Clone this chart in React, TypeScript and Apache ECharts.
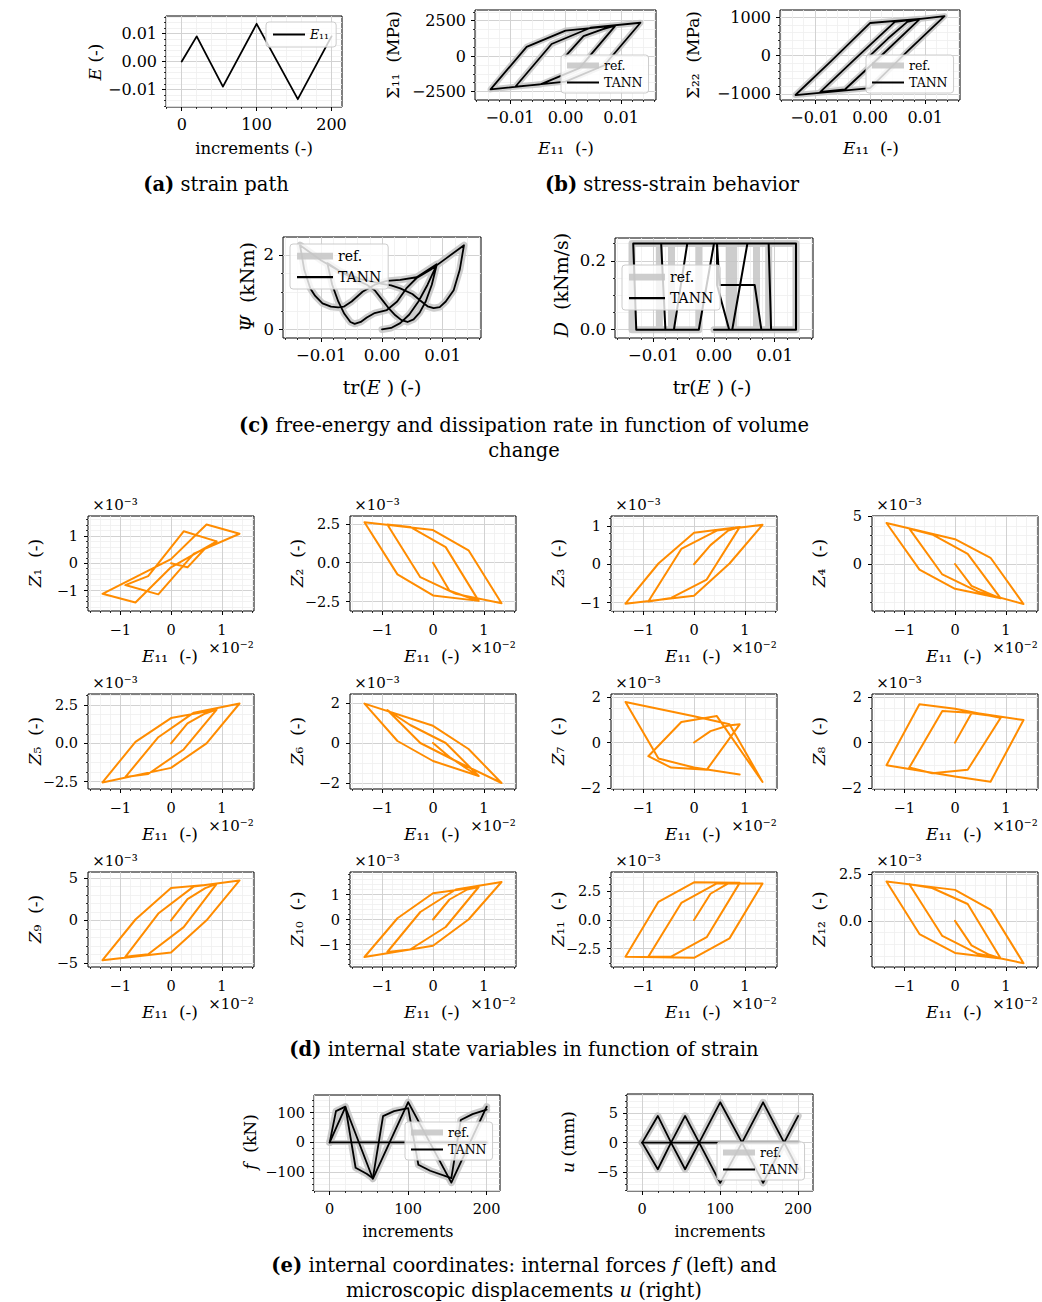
import React, { useEffect, useRef } from "react";
import * as echarts from "echarts";

const SERIF = "'DejaVu Serif', serif";
const ORANGE = "#ff8c00";
const REFC = "#c4c4c4";

// ---------- (a) strain path ----------
const incKnots = [0, 20, 55, 100, 155, 200];
const e11Knots = [0, 0.009, -0.009, 0.0135, -0.0135, 0.009];

// ---------- E11 at the corners of the loops ----------
const e11Loop = [0, 0.00325, 0.00675, 0.009, 0.0025, -0.0045, -0.009, -0.0025, 0.0045, 0.0135, 0.007, 0, -0.0135, -0.007, 0, 0.009];
const sigma11 = [0, 1400, 1900, 2150, -850, -2000, -2150, 850, 2000, 2350, -650, -1800, -2350, 650, 1800, 2150];
const sigma22 = [0, 445, 880, 950, 60, -880, -950, -60, 880, 1030, 140, -850, -1030, -140, 850, 960];

// internal state variables (x 1e-3)
const z1 = [0, -0.15, 0.55, 0.8, 1.17, -0.47, -0.8, -1.14, 0.35, 1.08, 1.42, 0.15, -1.12, -1.44, -0.15, 0.8];
const z2 = [0, -1.8, -2.2, -2.45, 1.0, 2.3, 2.45, -0.93, -2.0, -2.6, 0.8, 2.1, 2.6, -0.75, -2.1, -2.45];
const z3 = [0, 0.5, 0.88, 0.97, -0.4, -0.88, -0.97, 0.4, 0.88, 1.03, 0.02, -0.82, -1.03, 0.02, 0.82, 0.97];
const z4 = [0, -2.3, -3.1, -3.6, 1.05, 3.1, 3.7, -1.1, -2.9, -4.2, 0.65, 2.6, 4.3, -0.6, -2.6, -3.6];
const z5 = [0, 1.3, 1.95, 2.2, -0.4, -2.0, -2.2, 0.4, 2.0, 2.6, 0.0, -1.6, -2.55, 0.1, 1.65, 2.2];
const z6 = [0, -0.7, -1.3, -1.65, 0.0, 0.9, 1.65, 0.0, -0.9, -2.0, -0.3, 0.86, 1.97, 0.1, -0.9, -1.65];
const z7 = [0, 0.5, 0.75, 0.8, -1.2, -1.1, -0.6, 0.9, 1.16, -1.73, 0.8, 1.15, 1.78, -0.7, -1.1, -1.4];
const z8 = [0, 1.3, 1.2, 1.1, -1.2, -1.35, -1.1, 1.4, 1.3, 1.0, -1.73, -1.5, -1.0, 1.7, 1.5, 1.1];
const z9 = [0, 2.5, 3.8, 4.3, -0.8, -4.0, -4.3, 0.8, 4.0, 4.7, 0.0, -3.8, -4.7, 0.1, 3.8, 4.3];
const z10 = [0, 0.8, 1.2, 1.3, -0.3, -1.2, -1.3, 0.3, 1.2, 1.5, 0.0, -1.05, -1.5, 0.05, 1.05, 1.3];
const z11 = [0, 2.3, 3.2, 3.25, -1.5, -3.2, -3.2, 1.5, 3.2, 3.2, -1.6, -3.3, -3.2, 1.6, 3.3, 3.25];
const z12 = [0, -1.3, -1.8, -2.0, 0.9, 1.75, 1.95, -0.8, -1.75, -2.25, 0.6, 1.65, 2.1, -0.7, -1.7, -2.0];
const zSets = [z1, z2, z3, z4, z5, z6, z7, z8, z9, z10, z11, z12];

// ---------- (c) free energy ----------
const psiTrE = [
  0, 0.0015, 0.003, 0.0045, 0.006, 0.0075, 0.009,
  0.0082, 0.0072, 0.0062, 0.0052, 0.0042, 0.0032, 0.0022, 0.0012, 0, -0.0012, -0.0025, -0.0045, -0.0068, -0.009,
  -0.0082, -0.0072, -0.0062, -0.0052, -0.0045, -0.0035, -0.0025, -0.0012, 0.0008, 0.0025, 0.004, 0.0057, 0.008, 0.0105, 0.0135,
  0.0128, 0.0118, 0.0105, 0.0095, 0.0085, 0.0075, 0.0065, 0.005, 0.003, 0.0015, 0, -0.0035, -0.0068, -0.01, -0.0135,
  -0.0128, -0.0118, -0.011, -0.0098, -0.0084, -0.0072, -0.0063, -0.005, -0.0032, -0.0012, 0.0008, 0.003, 0.0057, 0.009];
const psiVal = [
  0, 0.04, 0.17, 0.4, 0.75, 1.2, 1.73,
  1.2, 0.75, 0.45, 0.27, 0.2, 0.25, 0.38, 0.55, 0.8, 1.05, 1.2, 1.35, 1.55, 1.78,
  1.2, 0.75, 0.42, 0.2, 0.15, 0.2, 0.32, 0.44, 0.52, 0.75, 1.1, 1.38, 1.6, 1.9, 2.26,
  1.6, 1.05, 0.75, 0.6, 0.57, 0.62, 0.75, 0.95, 1.1, 1.18, 1.22, 1.35, 1.55, 1.85, 2.26,
  1.6, 1.1, 0.9, 0.7, 0.61, 0.59, 0.61, 0.75, 1.01, 1.2, 1.3, 1.33, 1.4, 1.75];

// ---------- (c) dissipation rate ----------
const dRefTrE = [0, 0.00325, 0.00325, 0.009, 0.009, 0.0025, 0.0025, -0.009, -0.009, -0.0025, -0.0025, 0.0135, 0.0135, 0.007, 0.007, -0.0135, -0.0135, -0.007, -0.007, 0.009];
const dRefVal = [0, 0, 0.25, 0.25, 0, 0, 0.25, 0.25, 0, 0, 0.25, 0.25, 0, 0, 0.25, 0.25, 0, 0, 0.25, 0.25];
const dTanTrE = [0, 0.003, 0.0055, 0.009, 0.0094, 0.0025, 0.0005, 0.0005, -0.0087, -0.008, -0.0025, 0, 0.0135, 0.0135, 0.0078, 0.0067, 0.0009, 0.0005, -0.0133, -0.0128, -0.0066, -0.0044, 0.009];
const dTanVal = [0, 0, 0.25, 0.25, 0, 0, 0.13, 0.25, 0.25, 0, 0, 0.25, 0.25, 0, 0, 0.13, 0.13, 0.25, 0.25, 0, 0, 0.25, 0.25];

// ---------- (e) internal coordinates ----------
const fIncA = [0, 8, 20, 33, 47, 55, 68, 82, 100, 113, 128, 155, 167, 182, 200];
const fA = [0, 105, 120, -85, -105, -120, 88, 105, 115, -75, -95, -120, 75, 95, 110];
const fIncB = [0, 20, 55, 100, 155, 200];
const fB = [0, 118, -122, 135, -135, 120];
const uInc = [0, 20, 37, 55, 73, 100, 128, 155, 182, 200];
const uPos = [0, 4.5, 0, 4.5, 0, 6.8, 0, 6.8, 0, 4.5];
const uNeg = [0, -4.5, 0, -4.5, 0, -6.8, 0, -6.8, 0, -4.5];
const zeroInc = [0, 200];
const zeroVal = [0, 0];

// ---------- tick labels ----------
const incTicks = [0, 100, 200];
const strainTicks = [-0.01, 0, 0.01];
const s11Ticks = [-2500, 0, 2500];
const s22Ticks = [-1000, 0, 1000];
const psiTicks = [0, 2];
const dTicks = [0, 0.2];
const zxTicks = [-1, 0, 1];
const fTicks = [-100, 0, 100];
const uTicks = [-5, 0, 5];
const zyTicks = [
  [-1, 0, 1], [-2.5, 0, 2.5], [-1, 0, 1], [-5, 0, 5],
  [-2.5, 0, 2.5], [-2, 0, 2], [-2, 0, 2], [-2, 0, 2],
  [-5, 0, 5], [-1, 0, 1], [-2.5, 0, 2.5], [0, 2.5],
];
const zyRange: [number, number, number, number][] = [
  [-1.75, 1.73, 0.2, 0], [-3.1, 3.0, 0.625, 1], [-1.22, 1.26, 0.2, 0], [-4.93, 5.03, 1, 0],
  [-2.98, 3.22, 0.625, 1], [-2.3, 2.45, 0.5, 0], [-2.04, 2.13, 0.5, 0], [-2.05, 2.15, 0.5, 0],
  [-5.5, 5.7, 1, 0], [-1.9, 1.9, 0.2, 0], [-4.1, 4.2, 0.625, 1], [-2.45, 2.6, 0.625, 1],
];

const zip = (a: number[], b: number[], sx = 1) => a.map((v, i) => [v * sx, b[i]]);
const fmt = (d: number) => (v: number) => (v < -1e-12 ? "\u2212" : "") + Math.abs(v).toFixed(d);

function axisPair(dim: "x" | "y", gi: number, min: number, max: number, majors: number[], step: number, f: (v: number) => string, fs: number, margin: number) {
  const minors: number[] = [];
  for (let k = Math.ceil(min / step - 1e-9); k * step <= max + 1e-12; k++) {
    const v = +(k * step).toFixed(10);
    if (!majors.some((m) => Math.abs(m - v) < step * 1e-3)) minors.push(v);
  }
  const position = dim === "x" ? "bottom" : "left";
  const main = {
    type: "value", gridIndex: gi, min, max, position, offset: 0,
    axisLine: { show: false, onZero: false },
    axisTick: { show: true, customValues: majors, length: 4, lineStyle: { color: "#000", width: 1 } },
    axisLabel: { show: true, customValues: majors, formatter: f, color: "#000", fontFamily: SERIF, fontSize: fs, margin, hideOverlap: false },
    splitLine: { show: true, customValues: majors, lineStyle: { color: "#d2d2d2", width: 1 } },
  };
  const minor = {
    type: "value", gridIndex: gi, min, max, position, offset: 0,
    axisLine: { show: false, onZero: false },
    axisTick: { show: true, customValues: minors, length: 2, lineStyle: { color: "#000", width: 0.8 } },
    axisLabel: { show: false },
    splitLine: { show: true, customValues: minors, lineStyle: { color: "#efefef", width: 0.8 } },
  };
  return [main, minor];
}

function line(name: string, data: number[][], color: string, width: number, opacity = 1, z = 3) {
  return {
    type: "line", name, data, showSymbol: false, symbol: "none", silent: true, clip: true,
    lineStyle: { color, width, opacity, cap: "round", join: "round" }, itemStyle: { color, opacity }, z,
  };
}
const refLine = (d: number[][], w = 6) => line("ref.", d, REFC, w, 0.85, 2);
const tannLine = (d: number[][], w = 1.8) => line("TANN", d, "#000", w, 1, 3);

const ICON_THICK = "path://M0,0H32V6H0Z";
const ICON_THIN = "path://M0,0H32V2H0Z";

function buildOption() {
  const grids: any[] = [], xAxes: any[] = [], yAxes: any[] = [], series: any[] = [], legends: any[] = [], graphic: any[] = [];
  type Ax = { min: number; max: number; majors: number[]; step: number; f: (v: number) => string; fs: number; m?: number };
  const addPlot = (box: number[], x: Ax, y: Ax, ser: any[]) => {
    const gi = grids.length;
    grids.push({ left: box[0], top: box[1], width: box[2], height: box[3], show: true, borderColor: "#000", borderWidth: 1, backgroundColor: "#fff", containLabel: false });
    const xi = xAxes.length, yi = yAxes.length;
    xAxes.push(...axisPair("x", gi, x.min, x.max, x.majors, x.step, x.f, x.fs, x.m ?? 9));
    yAxes.push(...axisPair("y", gi, y.min, y.max, y.majors, y.step, y.f, y.fs, y.m ?? 9));
    ser.forEach((s) => series.push({ ...s, xAxisIndex: xi, yAxisIndex: yi }));
  };
  const legend = (left: number, top: number, data: any[], fs = 12.5, extra: any = {}) =>
    legends.push({
      left, top, orient: "vertical", data, selectedMode: false, itemWidth: 32, itemHeight: 9, itemGap: 4,
      padding: [4, 6, 4, 6], backgroundColor: "rgba(255,255,255,0.8)", borderColor: "#cccccc", borderWidth: 1, borderRadius: 3,
      textStyle: { fontFamily: SERIF, fontSize: fs, color: "#000", rich: { i: { fontStyle: "italic", fontFamily: SERIF, fontSize: fs } } }, ...extra,
    });
  const RT = [{ name: "ref.", icon: ICON_THICK }, { name: "TANN", icon: ICON_THIN }];
  const BIG = { itemWidth: 36, itemHeight: 10, itemGap: 7, padding: [5, 7, 5, 7] };
  const rich = (fs: number) => ({
    i: { fontStyle: "italic", fontFamily: SERIF, fontSize: fs, fill: "#000" },
    b: { fontWeight: "bold", fontFamily: SERIF, fontSize: fs, fill: "#000" },
  });
  const text = (x: number, y: number, t: string, fs: number, rot = 0, align = "center") =>
    graphic.push({
      type: "text", x, y, rotation: rot, z: 100, silent: true,
      style: { text: t, fontFamily: SERIF, fontSize: fs, fill: "#000", align, verticalAlign: "middle", textAlign: align, textVerticalAlign: "middle", rich: rich(fs) },
    });
  const R = Math.PI / 2;

  const E = { min: -0.0163, max: 0.0163, majors: strainTicks, step: 0.002, f: fmt(2), fs: 16 };
  const EC = { ...E, fs: 16.5 };

  // (a)
  addPlot([166, 16, 176, 91], { min: -21, max: 214, majors: incTicks, step: 20, f: fmt(0), fs: 16 }, { ...E },
    [line("E11", zip(incKnots, e11Knots), "#000", 1.8)]);
  legend(266, 22, [{ name: "E11", icon: ICON_THIN }], 12.5, { padding: [6, 7, 6, 7], formatter: () => "{i|E}\u2081\u2081" });
  text(95, 62, "{i|E} (-)", 17, R);
  text(254, 148, "increments (-)", 16.5);

  // (b) sigma11
  addPlot([475, 10, 181, 90], E, { min: -3100, max: 3250, majors: s11Ticks, step: 625, f: fmt(0), fs: 16 },
    [refLine(zip(e11Loop, sigma11)), tannLine(zip(e11Loop, sigma11))]);
  legend(561, 55, RT);
  text(393, 55, "\u03a3\u2081\u2081  (MPa)", 17, R);
  text(566, 148, "{i|E}\u2081\u2081  (-)", 17);

  // (b) sigma22
  addPlot([780, 10, 180, 90], E, { min: -1160, max: 1190, majors: s22Ticks, step: 200, f: fmt(0), fs: 16 },
    [refLine(zip(e11Loop, sigma22)), tannLine(zip(e11Loop, sigma22))]);
  legend(866, 55, RT);
  text(693, 55, "\u03a3\u2082\u2082  (MPa)", 17, R);
  text(871, 148, "{i|E}\u2081\u2081  (-)", 17);
  text(216, 184, "{b|(a)} strain path", 19.5);
  text(672, 184, "{b|(b)} stress-strain behavior", 19.5);

  // (c) psi
  addPlot([283, 237, 198, 101], EC, { min: -0.23, max: 2.48, majors: psiTicks, step: 0.5, f: fmt(0), fs: 16.5 },
    [refLine(zip(psiTrE, psiVal), 7), tannLine(zip(psiTrE, psiVal))]);
  legend(290, 244, RT, 14, BIG);
  text(247, 287, "{i|\u03a8}  (kNm)", 19, R);
  text(382, 387, "tr({i|E} ) (-)", 19);

  // (c) D
  addPlot([615, 238, 198, 100], EC, { min: -0.024, max: 0.266, majors: dTicks, step: 0.05, f: fmt(1), fs: 16.5 },
    [refLine(zip(dRefTrE, dRefVal), 7), tannLine(zip(dTanTrE, dTanVal), 2)]);
  legend(622, 265, RT, 14, BIG);
  text(561, 285, "{i|D}  (kNm/s)", 19, R);
  text(712, 387, "tr({i|E} ) (-)", 19);
  text(524, 425, "{b|(c)} free-energy and dissipation rate in function of volume", 19.5);
  text(524, 450, "change", 19.5);

  // (d) Z plots
  const colL = [88, 350, 611, 872];
  const rowT = [516, 694, 872];
  const subs = ["\u2081", "\u2082", "\u2083", "\u2084", "\u2085", "\u2086", "\u2087", "\u2088", "\u2089", "\u2081\u2080", "\u2081\u2081", "\u2081\u2082"];
  zSets.forEach((zs, k) => {
    const c = k % 4, r = Math.floor(k / 4);
    const L = colL[c], T = rowT[r];
    const [ymin, ymax, ystep, dec] = zyRange[k];
    addPlot([L, T, 166, 95], { min: -1.635, max: 1.635, majors: zxTicks, step: 0.2, f: fmt(0), fs: 14.5, m: 11 },
      { min: ymin, max: ymax, majors: zyTicks[k], step: ystep, f: fmt(dec), fs: 14.5, m: 10 },
      [line("Z", zip(e11Loop, zs, 100), ORANGE, 2)]);
    text(L - 53, T + 47, "{i|Z}" + subs[k] + "  (-)", 17, R);
    text(L + 82, T + 140, "{i|E}\u2081\u2081  (-)", 17);
    text(L + 143, T + 132, "\u00d710\u207b\u00b2", 15);
    text(L + 27, T - 11, "\u00d710\u207b\u00b3", 15);
  });
  text(524, 1049, "{b|(d)} internal state variables in function of strain", 19.5);

  // (e) f
  addPlot([314, 1095, 186, 96], { min: -20, max: 217, majors: incTicks, step: 20, f: fmt(0), fs: 14.5, m: 10 },
    { min: -163, max: 159, majors: fTicks, step: 20, f: fmt(0), fs: 14.5, m: 9 },
    [refLine(zip(fIncA, fA), 7), refLine(zip(fIncB, fB), 7), refLine(zip(zeroInc, zeroVal), 5),
     tannLine(zip(fIncA, fA)), tannLine(zip(fIncB, fB)), tannLine(zip(zeroInc, zeroVal))]);
  legend(405, 1122, RT);
  text(250, 1142, "{i|f}  (kN)", 17, R);
  text(408, 1231, "increments", 16);

  // (e) u
  addPlot([627, 1094, 186, 97], { min: -19.5, max: 219, majors: incTicks, step: 20, f: fmt(0), fs: 14.5, m: 10 },
    { min: -8.17, max: 8.2, majors: uTicks, step: 1, f: fmt(0), fs: 14.5, m: 9 },
    [refLine(zip(uInc, uPos), 7), refLine(zip(uInc, uNeg), 7), refLine(zip(zeroInc, zeroVal), 5),
     tannLine(zip(uInc, uPos)), tannLine(zip(uInc, uNeg)), tannLine(zip(zeroInc, zeroVal))]);
  legend(717, 1142, RT);
  text(568, 1142, "{i|u} (mm)", 17, R);
  text(720, 1231, "increments", 16);
  text(524, 1265, "{b|(e)} internal coordinates: internal forces {i|f} (left) and", 19.5);
  text(524, 1290, "microscopic displacements {i|u} (right)", 19.5);

  return {
    animation: false,
    backgroundColor: "#fff",
    textStyle: { fontFamily: SERIF },
    grid: grids, xAxis: xAxes, yAxis: yAxes, series, legend: legends, graphic,
  };
}

export default function App() {
  const ref = useRef<HTMLDivElement>(null);
  useEffect(() => {
    const chart = echarts.init(ref.current!, null, { renderer: "svg" });
    chart.setOption(buildOption() as any);
    return () => chart.dispose();
  }, []);
  return <div ref={ref} style={{ position: "fixed", left: 0, top: 0, width: 1042, height: 1302, background: "#fff" }} />;
}
